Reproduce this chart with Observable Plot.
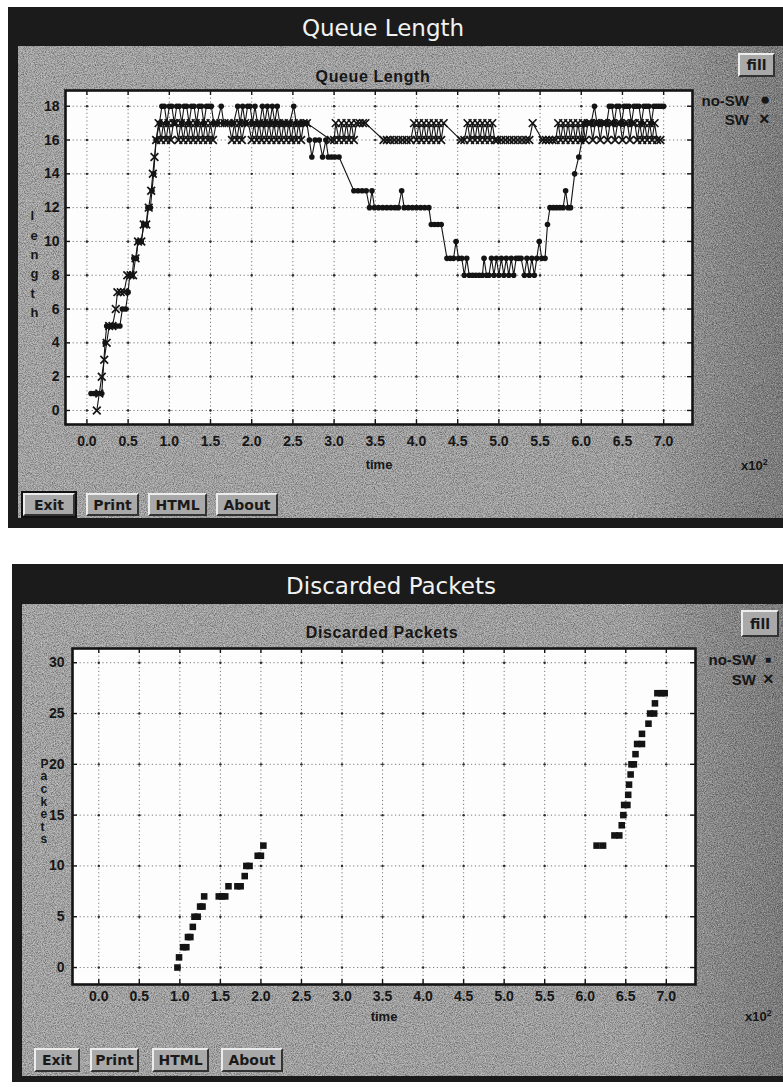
<!DOCTYPE html>
<html><head><meta charset="utf-8">
<script src="https://cdn.jsdelivr.net/npm/d3@7"></script>
<script src="https://cdn.jsdelivr.net/npm/@observablehq/plot@0.6"></script>
<style>
html,body{margin:0;padding:0;background:#fff;}
body{width:783px;height:1087px;position:relative;overflow:hidden;font-family:"Liberation Sans",Arial,sans-serif;}
.win{position:absolute;background:#1b1b1b;}
.panel{position:absolute;background:linear-gradient(to right,#b0b0b0 0%,#ababab 80%,#929292 91%,#828282 100%);}
.wtitle{position:absolute;color:#f2f2f2;font-family:"DejaVu Sans",sans-serif;font-size:23px;transform:translate(-50%,-50%);white-space:nowrap;}
.sub{position:absolute;color:#161616;font-weight:bold;font-size:16px;letter-spacing:0.6px;transform:translate(-50%,-50%);white-space:nowrap;}
.btn{position:absolute;box-sizing:border-box;border:2px solid;border-color:#ececec #333 #333 #ececec;font-family:"DejaVu Sans",sans-serif;font-size:14px;font-weight:bold;color:#1a1a1a;display:flex;align-items:center;justify-content:center;background:#a9a9a9;}
.focus{outline:2px solid #111;outline-offset:0px;}
.leg{position:absolute;font-weight:bold;font-size:15px;color:#161616;white-space:nowrap;transform:translateY(-50%);}
.mult{position:absolute;font-weight:bold;font-size:13px;color:#161616;}
.plot{position:absolute;left:0;pointer-events:none;}
#noise{position:absolute;left:0;top:0;pointer-events:none;}
</style></head>
<body>
<div class="win" style="left:8px;top:7px;width:775px;height:521px;"></div>
<div class="panel" style="left:18px;top:46px;width:765px;height:472px;"></div>
<div class="win" style="left:12px;top:564px;width:771px;height:518px;"></div>
<div class="panel" style="left:22px;top:604px;width:761px;height:472px;"></div>
<svg id="noise" width="783" height="1087">
<filter id="nz" x="0" y="0" width="100%" height="100%"><feTurbulence type="fractalNoise" baseFrequency="0.9" numOctaves="2" seed="7"/><feColorMatrix type="matrix" values="0 0 0 0 0  0 0 0 0 0  0 0 0 0 0  0.9 0 0 0 -0.33"/></filter>
<filter id="nz2" x="0" y="0" width="100%" height="100%"><feTurbulence type="fractalNoise" baseFrequency="0.7" numOctaves="2" seed="19"/><feColorMatrix type="matrix" values="0 0 0 0 1  0 0 0 0 1  0 0 0 0 1  0.8 0 0 0 -0.36"/></filter>
<rect x="18" y="46" width="765" height="472" filter="url(#nz)"/>
<rect x="22" y="604" width="761" height="472" filter="url(#nz)"/>
<rect x="18" y="46" width="765" height="472" filter="url(#nz2)"/>
<rect x="22" y="604" width="761" height="472" filter="url(#nz2)"/>
</svg>
<div class="wtitle" style="left:383px;top:28px;">Queue Length</div>
<div class="wtitle" style="left:391px;top:586px;">Discarded Packets</div>
<div class="sub" style="left:373px;top:77px;">Queue Length</div>
<div class="sub" style="left:382px;top:633px;">Discarded Packets</div>
<div class="btn" style="left:738px;top:53px;width:37px;height:24px;">fill</div>
<div class="btn" style="left:741px;top:610px;width:38px;height:27px;">fill</div>
<div id="top" class="plot" style="top:0px;"></div>
<div id="bot" class="plot" style="top:560px;"></div>
<div class="leg" style="right:34px;top:100px;">no-SW</div>
<div class="leg" style="right:34px;top:119px;">SW</div>
<div class="leg" style="left:760px;top:100px;font-size:17px;">●</div>
<div class="leg" style="left:759px;top:119px;font-size:18px;">×</div>
<div class="leg" style="right:27px;top:659px;">no-SW</div>
<div class="leg" style="right:27px;top:679px;">SW</div>
<div class="leg" style="left:765px;top:659px;font-size:10px;">■</div>
<div class="leg" style="left:763px;top:679px;font-size:18px;">×</div>
<div class="mult" style="left:741px;top:457px;">x10<sup style="font-size:9px">2</sup></div>
<div class="mult" style="left:745px;top:1008px;">x10<sup style="font-size:9px">2</sup></div>
<div class="btn focus" style="left:23px;top:493px;width:52px;height:23px;">Exit</div>
<div class="btn" style="left:86px;top:493px;width:53px;height:23px;">Print</div>
<div class="btn" style="left:148px;top:493px;width:59px;height:23px;">HTML</div>
<div class="btn" style="left:216px;top:493px;width:62px;height:23px;">About</div>
<div class="btn" style="left:34px;top:1048px;width:46px;height:24px;">Exit</div>
<div class="btn" style="left:90px;top:1048px;width:49px;height:24px;">Print</div>
<div class="btn" style="left:152px;top:1048px;width:57px;height:24px;">HTML</div>
<div class="btn" style="left:221px;top:1048px;width:62px;height:24px;">About</div>
<script>
// ---------- data ----------
const xTicks = [0,50,100,150,200,250,300,350,400,450,500,550,600,650,700];
const xTickLabels = ["0.0","0.5","1.0","1.5","2.0","2.5","3.0","3.5","4.0","4.5","5.0","5.5","6.0","6.5","7.0"];
const queueTicks = [0,2,4,6,8,10,12,14,16,18];
const packetTicks = [0,5,10,15,20,25,30];

// Queue length, no-SW (time, length)
const queueNoSWTime = [5,9,13,18,22,24,28,32,36,40,43,47,50,52,55,57,60,62,66,69,72,74,77,79,81,84,88,91,
 94,97,100,103,106,109,112,115,118,121,124,127,130,133,136,139,142,145,148,151,154,158,163,166,170,174,178,183,186,189,192,195,198,201,204,207,210,213,216,219,222,225,228,231,234,238,242,246,251,254,258,262,267,
 270,273,277,282,286,290,293,297,301,306,
 324,329,334,339,343,346,349,354,359,364,369,374,378,382,385,390,395,400,405,410,415,418,422,426,430,
 437,441,445,448,451,455,458,461,464,468,472,476,480,482,485,488,491,494,497,500,503,506,509,512,515,518,521,524,527,531,534,537,540,543,546,549,552,556,559,
 562,566,570,574,578,581,584,587,592,597,601,604,608,612,616,619,623,627,631,634,637,640,643,646,649,652,655,658,661,664,667,670,673,676,679,682,685,688,691,694,697,700];
const queueNoSWLen = [1,1,1,1,4,5,5,5,5,5,6,6,7,8,8,9,9,10,10,11,11,12,12,13,14,16,17,18,
 18,17,18,18,17,18,18,17,18,18,17,18,18,17,18,18,17,18,18,18,17,17,18,17,17,17,17,18,17,18,17,18,18,17,18,17,17,18,17,18,17,18,17,18,17,17,17,17,18,17,17,17,17,
 16,15,16,16,15,16,15,15,15,15,
 13,13,13,13,12,13,12,12,12,12,12,12,12,13,12,12,12,12,12,12,12,11,11,11,11,
 9,9,9,10,9,9,8,9,8,8,8,8,8,9,8,8,9,8,9,8,9,8,9,8,9,8,9,9,9,8,9,8,9,8,9,10,9,9,11,
 12,12,12,12,12,13,12,12,14,15,16,17,17,17,18,17,17,17,17,18,18,17,18,18,17,18,18,18,17,18,18,18,17,18,18,18,17,18,18,18,18,18];

// Queue length, SW (time, length)
const queueSWTime = [12,15,18,21,24,27,31,35,37,41,45,49,53,56,59,62,66,69,72,75,78,80,82,84,87,
 90,93,96,99,102,105,108,111,114,117,120,123,126,129,132,135,138,141,144,147,150,153,157,162,167,172,176,179,182,185,188,192,196,200,203,206,209,212,215,218,221,224,227,230,233,236,239,242,245,248,251,254,257,260,263,267,
 296,300,302,306,309,312,315,318,321,324,327,331,335,338,360,364,368,373,378,383,388,393,397,400,403,406,409,412,415,418,421,424,427,430,433,
 454,458,462,465,468,471,474,477,480,483,486,489,492,495,498,503,508,513,518,523,528,533,537,541,553,557,561,565,569,572,575,578,581,584,587,590,593,596,599,602,605,608,611,614,617,620,623,626,629,632,635,638,641,644,647,650,653,656,659,662,665,668,671,674,677,680,683,686,689,692,696];
const queueSWLen = [0,1,2,3,4,5,5,6,7,7,7,8,8,8,9,10,10,11,11,12,13,14,15,16,17,
 16,17,16,17,16,17,17,16,17,16,17,16,17,16,17,16,17,16,17,16,17,16,17,17,17,17,16,17,16,17,16,17,17,16,17,16,17,16,17,16,17,16,17,16,17,16,17,16,17,16,17,16,17,16,17,17,
 16,16,17,16,17,16,17,16,17,16,17,17,17,17,16,16,16,16,16,16,16,16,17,16,17,16,17,16,17,16,17,16,17,16,17,
 16,16,17,16,17,16,17,16,17,16,17,16,17,16,16,16,16,16,16,16,16,16,16,17,16,16,16,16,16,17,16,17,16,17,16,17,16,17,16,17,16,17,17,16,17,17,16,17,17,16,17,17,16,17,17,16,17,17,16,17,17,16,17,16,17,16,17,16,17,16,16];

// Discarded packets, no-SW (time, cumulative count); SW discards none
const discardNoSWTime = [97,99,104,108,110,113,116,118,122,125,128,130,148,152,156,160,171,175,180,182,186,196,200,203,
 614,622,636,642,645,647,648,652,653,654,656,657,660,662,664,670,670,678,680,685,686,689,694,698];
const discardNoSWCount = [0,1,2,2,3,3,4,5,5,6,6,7,7,7,7,8,8,8,9,10,10,11,11,12,
 12,12,13,13,14,15,16,16,17,18,19,20,20,21,22,22,23,24,25,25,26,27,27,27];

// ---------- helpers ----------
const ink = "#141414";
const zip = (xs, ys) => xs.map((x, i) => ({x, y: ys[i]}));
const fmtX = d => xTickLabels[xTicks.indexOf(d)];

function chart({yTicks, xDomain, yDomain, mt, ml, mr, mb, ph, pw, xPad, yPad, labelDy, yLabel, yLabelDx, yLabelDy, yLabelLH, yLabelSize, series}) {
  const cross = d3.cross(xTicks, yTicks).map(([x, y]) => ({x, y}));
  return Plot.plot({
    width: 783, height: mt + ph + mb,
    marginTop: mt, marginLeft: ml, marginRight: mr, marginBottom: mb,
    x: {domain: xDomain},
    y: {domain: yDomain},
    style: {background: "transparent", fontFamily: "Liberation Sans, Arial, sans-serif", overflow: "visible"},
    marks: [
      Plot.frame({fill: "#fdfdfd", stroke: null}),
      Plot.gridX(xTicks, {stroke: "#6a6a6a", strokeOpacity: 1, strokeWidth: 0.9, strokeDasharray: "1.2,2.6"}),
      Plot.gridY(yTicks, {stroke: "#6a6a6a", strokeOpacity: 1, strokeWidth: 0.9, strokeDasharray: "1.2,2.6"}),
      Plot.dot(cross, {x: "x", y: "y", r: 1.2, fill: "#2a2a2a"}),
      Plot.ruleX(xTicks, {insetTop: ph - 5, stroke: ink, strokeWidth: 1.4}),
      Plot.ruleX(xTicks, {insetBottom: ph - 5, stroke: ink, strokeWidth: 1.4}),
      Plot.ruleY(yTicks, {insetRight: pw - 5, stroke: ink, strokeWidth: 1.4}),
      Plot.ruleY(yTicks, {insetLeft: pw - 5, stroke: ink, strokeWidth: 1.4}),
      ...series,
      Plot.frame({stroke: ink, strokeWidth: 2.6}),
      Plot.axisX(xTicks, {tickSize: 0, tickPadding: xPad, tickFormat: fmtX, fontSize: 14, fontWeight: "bold", fill: "#161616", label: null}),
      Plot.axisY(yTicks, {tickSize: 0, tickPadding: yPad, fontSize: 14, fontWeight: "bold", fill: "#161616", label: null}),
      Plot.text(["time"], {frameAnchor: "bottom", dy: labelDy, fontSize: 13, fontWeight: "bold", fill: "#161616"}),
      Plot.text([yLabel.split("").join("\n")], {frameAnchor: "left", dx: yLabelDx, dy: yLabelDy, lineHeight: yLabelLH, fontSize: yLabelSize, fontWeight: "bold", fill: "#161616"})
    ]
  });
}

const noSW = zip(queueNoSWTime, queueNoSWLen);
const sw = zip(queueSWTime, queueSWLen);
const topPlot = chart({
  yTicks: queueTicks, xDomain: [-26, 735], yDomain: [-0.83, 18.93],
  mt: 90, ml: 65, mr: 91, mb: 70, ph: 334, pw: 627, xPad: 12, yPad: 6, labelDy: 44,
  yLabel: "length", yLabelDx: -35, yLabelDy: 5, yLabelLH: 1.5, yLabelSize: 13,
  series: [
    Plot.line(sw, {x: "x", y: "y", stroke: ink, strokeWidth: 1.1}),
    Plot.line(noSW, {x: "x", y: "y", stroke: ink, strokeWidth: 1.1}),
    Plot.dot(sw, {x: "x", y: "y", symbol: "times", r: 3.6, stroke: ink, strokeWidth: 1.7}),
    Plot.dot(noSW, {x: "x", y: "y", r: 2.8, fill: ink, stroke: null})
  ]
});
document.getElementById("top").append(topPlot);

const discards = zip(discardNoSWTime, discardNoSWCount);
const botPlot = chart({
  yTicks: packetTicks, xDomain: [-32.4, 736], yDomain: [-1.67, 31.4],
  mt: 88, ml: 72, mr: 88, mb: 70, ph: 336, pw: 623, xPad: 7, yPad: 8, labelDy: 36,
  yLabel: "Packets", yLabelDx: -32, yLabelDy: -15, yLabelLH: 1.05, yLabelSize: 12,
  series: [
    Plot.dot(discards, {x: "x", y: "y", symbol: "square", r: 3.7, fill: ink, stroke: null})
  ]
});
document.getElementById("bot").append(botPlot);
</script>
</body></html>
